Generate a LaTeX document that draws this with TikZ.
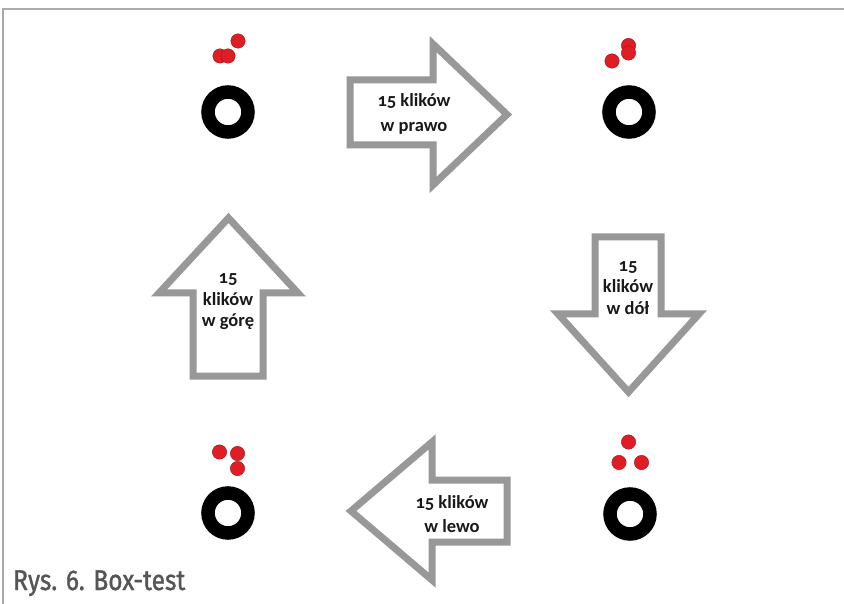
\documentclass[tikz,border=0pt]{standalone}
\usepackage{fontspec}
\setmainfont{Carlito}[Numbers=OldStyle]
\newfontfamily\capfont{Fira Sans}[FakeBold=1.3]
\definecolor{arrowgray}{RGB}{152,152,152}
\definecolor{framegray}{RGB}{170,170,170}
\definecolor{dotred}{RGB}{222,30,36}
\definecolor{captiongray}{RGB}{85,85,85}
\begin{document}
\begin{tikzpicture}[x=1pt,y=-1pt,
  ring/.style={draw=black,line width=13.5pt},
  dot/.style={fill=dotred,draw=dotred!70!black,line width=0.4pt},
  arrowbox/.style={draw=arrowgray,fill=white,line width=7pt,line join=miter},
  arrowtext/.style={align=center,text=black!90,font=\bfseries\fontsize{18.5}{24.5}\selectfont,inner sep=0pt},
  vtext/.style={arrowtext,font=\bfseries\fontsize{18.5}{21.5}\selectfont},
  frameline/.style={draw=framegray,line width=2pt}]
\useasboundingbox (0,0) rectangle (844,604);
\fill[white] (0,0) rectangle (844,604);
% frame
\draw[frameline] (2.5,604) -- (2.5,9.5) -- (844,9.5);

% rings
\draw[ring] (228,112) circle (20);
\draw[ring] (629,112) circle (20);
\draw[ring] (228,513) circle (20);
\draw[ring] (630,514) circle (20);

% dots top-left
\fill[dot] (238,41) circle (7.2);
\fill[dot] (220,56) circle (7.2);
\fill[dot] (228,56) circle (7.2);
% dots top-right
\fill[dot] (612,61) circle (7.2);
\fill[dot] (628.5,45.5) circle (7.2);
\fill[dot] (628.5,53) circle (7.2);
% dots bottom-left
\fill[dot] (219.5,452) circle (7.2);
\fill[dot] (237.5,453.5) circle (7.2);
\fill[dot] (237.5,468.5) circle (7.2);
% dots bottom-right
\fill[dot] (628.5,442) circle (7.2);
\fill[dot] (619,462.5) circle (7.2);
\fill[dot] (641.5,462.5) circle (7.2);

% right arrow
\draw[arrowbox] (350,80) -- (433,80) -- (433,44) -- (507,114.5) -- (433,185) -- (433,145) -- (350,145) -- cycle;
\node[arrowtext] (tr) at (414,114) {15 klików\\w prawo};

% down arrow
\draw[arrowbox] (595,237) -- (661,237) -- (661,314) -- (699,314) -- (628.5,392) -- (558,314) -- (595,314) -- cycle;
\node[vtext] (td) at (628,288) {15\\klików\\w dół};

% left arrow
\draw[arrowbox] (507,480) -- (432,480) -- (432,442) -- (351,511) -- (432,580) -- (432,542) -- (507,542) -- cycle;
\node[arrowtext] (tl) at (452,514) {15 klików\\w lewo};

% up arrow
\draw[arrowbox] (193,376) -- (263,376) -- (263,293) -- (298,293) -- (228.5,218) -- (159,293) -- (193,293) -- cycle;
\node[vtext] (tu) at (228,302) {15\\klików\\w górę};

% caption
\node[anchor=base west,inner sep=0pt,text=captiongray] (cap) at (13,590)
  {\scalebox{0.86}[1]{\capfont\fontsize{28.5}{28.5}\selectfont Rys. 6. Box-test}};
\end{tikzpicture}
\end{document}
